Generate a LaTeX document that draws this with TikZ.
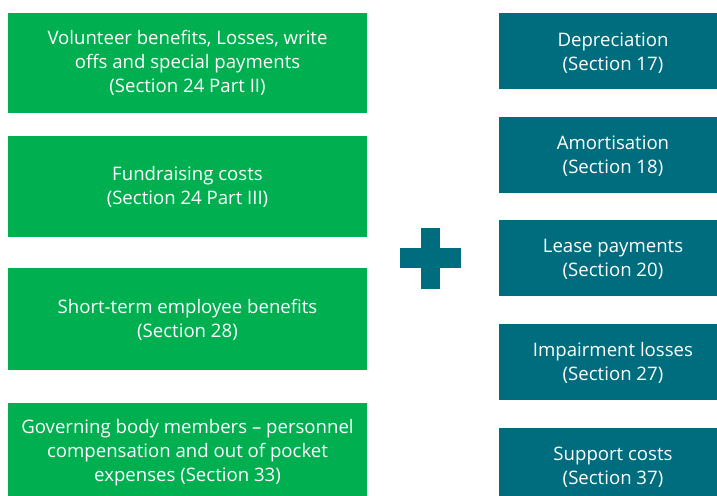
\documentclass[tikz,border=0pt]{standalone}
\usepackage{fontspec}
\setmainfont{Open Sans}
\definecolor{boxgreen}{HTML}{00AF50}
\definecolor{boxteal}{HTML}{006D7E}
\begin{document}
\begin{tikzpicture}[x=1pt,y=-1pt,
  lbl/.style={text=white,align=center,inner sep=0pt,font=\fontsize{18.6}{24}\selectfont}]
\useasboundingbox (0,0) rectangle (717,495);
\clip (0,0) rectangle (717,495);
% green boxes
\fill[boxgreen] (8,13) rectangle (367,113);
\node[lbl] (g1) at (187.5,63) {Volunteer benefits, Losses, write\\offs and special payments\\(Section 24 Part II)};
\fill[boxgreen] (8,136) rectangle (367,237);
\node[lbl] (g2) at (187.5,187) {Fundraising costs\\(Section 24 Part III)};
\fill[boxgreen] (8,268) rectangle (367,370);
\node[lbl] (g3) at (187.5,320) {Short-term employee benefits\\(Section 28)};
\fill[boxgreen] (8,403) rectangle (367,503);
\node[lbl] (g4) at (187.5,453) {Governing body members – personnel\\compensation and out of pocket\\expenses (Section 33)};
% teal boxes
\fill[boxteal] (499,13) rectangle (717,89);
\node[lbl] (t1) at (613,53) {Depreciation\\(Section 17)};
\fill[boxteal] (499,117) rectangle (717,193);
\node[lbl] (t2) at (613,156) {Amortisation\\(Section 18)};
\fill[boxteal] (499,220) rectangle (717,296);
\node[lbl] (t3) at (613,259) {Lease payments\\(Section 20)};
\fill[boxteal] (499,324) rectangle (717,400);
\node[lbl] (t4) at (613,363) {Impairment losses\\(Section 27)};
\fill[boxteal] (499,428) rectangle (717,504);
\node[lbl] (t5) at (613,467) {Support costs\\(Section 37)};
% plus sign
\fill[boxteal] (421,228) rectangle (440,289);
\fill[boxteal] (400,248) rectangle (461,268);
\end{tikzpicture}
\end{document}
